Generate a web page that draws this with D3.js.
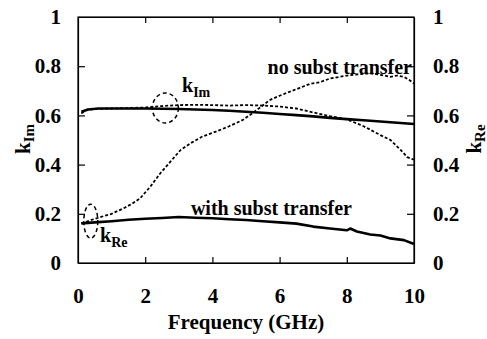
<!DOCTYPE html>
<html lang="en">
<head>
  <meta charset="UTF-8">
  <title>k_Im / k_Re vs frequency</title>
  <style>
    body { margin: 0; background: #fff; }
    svg { display: block; }
    .axis path, .axis line { stroke: #000; stroke-width: 1.2; }
    .solid { fill: none; stroke: #000; stroke-width: 2.6; stroke-linejoin: round; }
    .dashed { fill: none; stroke: #000; stroke-width: 1.8; stroke-dasharray: 3,2; }
  </style>
  <script src="https://d3js.org/d3.v7.min.js"></script>
</head>
<body>
  <svg id="chart" width="487" height="339"></svg>

  <script>
    // x ticks / y ticks
    const xTicks = [0, 2, 4, 6, 8, 10];
    const yTicks = [0, 0.2, 0.4, 0.6, 0.8, 1];

    // k_Im, with substrate transfer (solid)
    const fImWith = [0.1, 0.3, 0.6, 1, 1.5, 2, 2.5, 3, 3.5, 4, 4.5, 5, 5.5, 6, 6.5, 7, 7.5, 8, 8.5, 9, 9.5, 10];
    const kImWith = [0.615, 0.624, 0.628, 0.628, 0.628, 0.628, 0.627, 0.626, 0.624, 0.622, 0.619, 0.615, 0.611, 0.606, 0.601, 0.596, 0.590, 0.585, 0.580, 0.575, 0.570, 0.565];

    // k_Im, no substrate transfer (dashed)
    const fImNo = [0.1, 0.25, 0.5, 1, 1.5, 2, 2.5, 3, 3.5, 4, 4.5, 5, 5.5, 6, 6.5, 7, 7.5, 8, 8.5, 9, 9.3, 9.6, 9.8, 10];
    const kImNo = [0.608, 0.622, 0.626, 0.628, 0.630, 0.632, 0.638, 0.642, 0.643, 0.642, 0.640, 0.642, 0.640, 0.636, 0.628, 0.612, 0.597, 0.584, 0.556, 0.520, 0.500, 0.460, 0.430, 0.420];

    // k_Re, no substrate transfer (dashed)
    const fReNo = [0.1, 0.4, 0.75, 1.0, 1.35, 1.6, 1.85, 2.15, 2.45, 2.75, 3.05, 3.35, 3.7, 4.1, 4.5, 4.9, 5.1, 5.4, 5.7, 6.0, 6.3, 6.6, 6.9, 7.2, 7.5, 7.8, 8.1, 8.4, 8.7, 9.0, 9.3, 9.5, 9.7, 9.85, 10];
    const kReNo = [0.161, 0.175, 0.19, 0.20, 0.222, 0.24, 0.263, 0.31, 0.365, 0.412, 0.459, 0.487, 0.514, 0.534, 0.556, 0.581, 0.60, 0.63, 0.662, 0.68, 0.696, 0.712, 0.728, 0.735, 0.75, 0.757, 0.764, 0.768, 0.771, 0.765, 0.757, 0.762, 0.757, 0.745, 0.73];

    // k_Re, with substrate transfer (solid)
    const fReWith = [0.1, 0.5, 1, 1.5, 2, 2.5, 3, 3.5, 4, 4.5, 5, 5.5, 6, 6.5, 7, 7.5, 8, 8.1, 8.3, 8.7, 9, 9.3, 9.7, 10];
    const kReWith = [0.161, 0.165, 0.170, 0.176, 0.180, 0.183, 0.187, 0.184, 0.182, 0.178, 0.175, 0.170, 0.165, 0.160, 0.148, 0.140, 0.133, 0.140, 0.128, 0.116, 0.112, 0.100, 0.093, 0.077];

    const FONT = "Liberation Serif";
    const margin = {top: 17, right: 73, bottom: 76, left: 78};
    const svg = d3.select("#chart")
      .attr("font-family", FONT).attr("font-weight", "bold");
    const W = +svg.attr("width"), H = +svg.attr("height");
    const w = W - margin.left - margin.right, h = H - margin.top - margin.bottom;

    const x = d3.scaleLinear().domain([0, 10]).range([0, w]);
    const yIm = d3.scaleLinear().domain([0, 1]).range([h, 0]);
    const yRe = d3.scaleLinear().domain([0, 1]).range([h, 0]);
    const fmt = d => d === 0 || d === 1 ? String(d) : d3.format(".1f")(d);

    const g = svg.append("g").attr("transform", `translate(${margin.left},${margin.top})`);

    g.append("g").attr("class", "axis")
      .attr("transform", `translate(0,${h})`)
      .call(d3.axisBottom(x).tickValues(xTicks).tickSizeInner(-6).tickSizeOuter(0).tickPadding(25));
    g.append("g").attr("class", "axis")
      .call(d3.axisTop(x).tickValues([2, 4, 6, 8]).tickSizeInner(-6).tickSizeOuter(0).tickFormat(""));
    g.append("g").attr("class", "axis")
      .call(d3.axisLeft(yIm).tickValues(yTicks).tickSizeInner(-7).tickSizeOuter(0).tickPadding(17).tickFormat(fmt));
    g.append("g").attr("class", "axis")
      .attr("transform", `translate(${w},0)`)
      .call(d3.axisRight(yRe).tickValues(yTicks).tickSizeInner(-7).tickSizeOuter(0).tickPadding(19).tickFormat(fmt));
    g.selectAll(".axis").attr("font-family", FONT).attr("font-size", 21).attr("font-weight", "bold");
    // hide end ticks that fall on the frame corners
    g.selectAll(".axis .tick line").filter(d => d === 0 || d === 1 || d === 10).remove();

    g.append("rect").attr("width", w).attr("height", h)
      .attr("fill", "none").attr("stroke", "#000").attr("stroke-width", 1.2);

    const lineIm = d3.line().x(d => x(d[0])).y(d => yIm(d[1]));
    const lineRe = d3.line().x(d => x(d[0])).y(d => yRe(d[1]));

    g.append("path").attr("class", "dashed").attr("d", lineIm(d3.zip(fImNo, kImNo)));
    g.append("path").attr("class", "dashed").attr("d", lineRe(d3.zip(fReNo, kReNo)));
    g.append("path").attr("class", "solid").attr("d", lineIm(d3.zip(fImWith, kImWith)));
    g.append("path").attr("class", "solid").attr("d", lineRe(d3.zip(fReWith, kReWith)));

    // dashed marker ellipses
    g.append("ellipse").attr("cx", x(2.6)).attr("cy", yIm(0.63)).attr("rx", 13).attr("ry", 15)
      .attr("fill", "none").attr("stroke", "#000").attr("stroke-width", 1.5).attr("stroke-dasharray", "4,3");
    g.append("ellipse").attr("cx", x(0.38)).attr("cy", yRe(0.17)).attr("rx", 7).attr("ry", 17)
      .attr("fill", "none").attr("stroke", "#000").attr("stroke-width", 1.5).attr("stroke-dasharray", "4,3");

    // annotations
    const kIm = svg.append("text").attr("x", 182).attr("y", 92).attr("font-size", 20);
    kIm.append("tspan").text("k");
    kIm.append("tspan").attr("font-size", 14).attr("dy", 5).text("Im");
    const kRe = svg.append("text").attr("x", 100).attr("y", 242).attr("font-size", 20);
    kRe.append("tspan").text("k");
    kRe.append("tspan").attr("font-size", 14).attr("dy", 5).text("Re");

    svg.append("text").attr("x", 412).attr("y", 74).attr("text-anchor", "end")
      .attr("font-size", 20).text("no subst transfer");
    svg.append("text").attr("x", 352).attr("y", 215).attr("text-anchor", "end")
      .attr("font-size", 20).text("with subst transfer");

    // axis titles
    svg.append("text").attr("x", margin.left + w / 2).attr("y", 329).attr("text-anchor", "middle")
      .attr("font-size", 21).text("Frequency (GHz)");

    const yl = svg.append("text").attr("transform", "translate(30,139) rotate(-90)")
      .attr("text-anchor", "middle").attr("font-size", 21);
    yl.append("tspan").text("k");
    yl.append("tspan").attr("font-size", 15).attr("dy", 4).text("Im");

    const yr = svg.append("text").attr("transform", "translate(481,139) rotate(-90)")
      .attr("text-anchor", "middle").attr("font-size", 21);
    yr.append("tspan").text("k");
    yr.append("tspan").attr("font-size", 15).attr("dy", 4).text("Re");
  </script>
</body>
</html>
